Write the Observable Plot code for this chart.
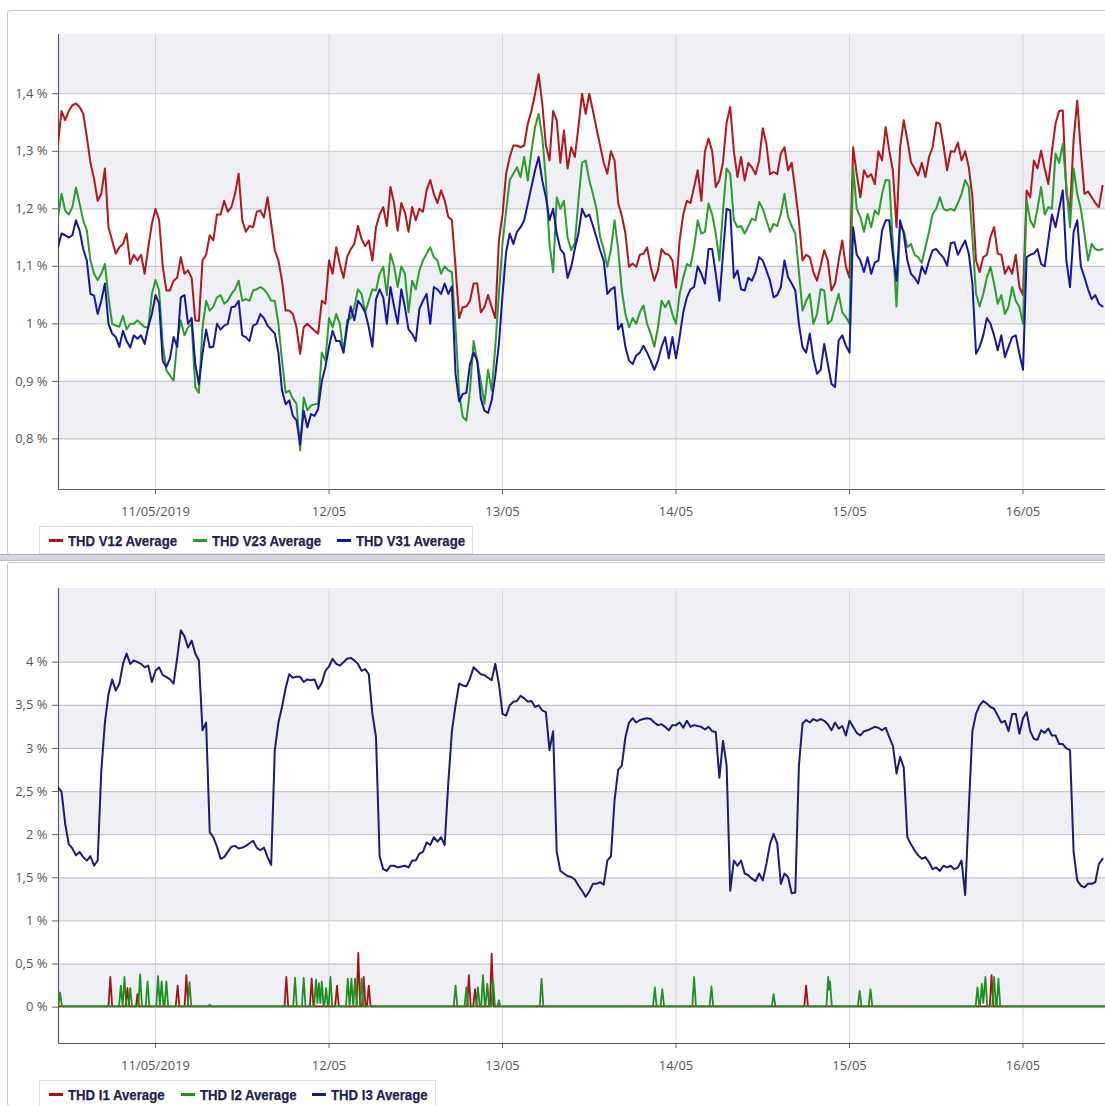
<!DOCTYPE html>
<html>
<head>
<meta charset="utf-8">
<script src="https://cdn.jsdelivr.net/npm/d3@7"></script>
<script src="https://cdn.jsdelivr.net/npm/@observablehq/plot@0.6"></script>
<style>
  html, body { margin: 0; padding: 0; background: #fff; overflow: hidden; width: 1105px; height: 1106px; }
  .panel { position: absolute; left: 7px; width: 1120px; height: 543px; border: 1px solid #c2c8da; border-radius: 3px; background: #fff; }
  .divider { position: absolute; left: 0; width: 1105px; height: 5px; background: #d3d6de; border-top: 1px solid #a9aebd; border-bottom: 1px solid #b9bdc9; }
  .chart { position: absolute; left: 0; }
  .legend {
    position: absolute; left: 39px; height: 26px; display: flex; align-items: center; gap: 16px;
    padding: 0 7px 0 9px; background: #fff; border: 1px solid #e0e2e8;
    font-family: "Liberation Sans", Arial, sans-serif; font-weight: bold; font-size: 15px; color: #1f2150;
    -webkit-text-stroke: 0.25px #1f2150;
  }
  .legend .item { display: flex; align-items: center; gap: 5px; white-space: nowrap; }
  .legend .dash { display: inline-block; width: 14px; height: 3px; }
  .legend .label { display: inline-block; overflow: visible; }
  .legend .label span { display: inline-block; transform-origin: 0 50%; }
</style>
</head>
<body>
<div class="panel" style="top:10px"></div>
<div class="divider" style="top:554px"></div>
<div class="panel" style="top:562px"></div>
<div id="voltage" class="chart" style="top:0px"></div>
<div id="voltage-legend" class="legend" style="top:526px"></div>
<div id="current" class="chart" style="top:554px"></div>
<div id="current-legend" class="legend" style="top:1080px"></div>
<script>
// Half-hourly samples, hours counted from 10/05/2019 00:00 (10:00 on the 10th to 11:00 on the 16th)
const sampleHours = d3.range(10, 155.25, 0.5);

const thdV12 = [
  1.32, 1.313, 1.37, 1.354, 1.37, 1.38, 1.383, 1.377, 1.365, 1.325, 1.28, 1.252, 1.214, 1.226, 1.27, 1.168, 1.145, 1.122, 1.133, 1.139,
  1.157, 1.104, 1.12, 1.11, 1.12, 1.087, 1.133, 1.174, 1.2, 1.18, 1.10, 1.058, 1.058, 1.075, 1.08, 1.116, 1.087, 1.093, 1.08, 1.006,
  1.005, 1.11, 1.12, 1.154, 1.145, 1.19, 1.19, 1.214, 1.195, 1.203, 1.226, 1.261, 1.18, 1.16, 1.17, 1.168, 1.195, 1.197, 1.185, 1.22,
  1.174, 1.128, 1.11, 1.075, 1.023, 1.023, 1.017, 0.994, 0.948, 0.994, 1.0, 0.994, 0.988, 0.983, 1.04, 1.035, 1.11, 1.087, 1.133, 1.104,
  1.08, 1.116, 1.13, 1.139, 1.17, 1.148, 1.135, 1.145, 1.11, 1.168, 1.19, 1.203, 1.17, 1.238, 1.21, 1.162, 1.21, 1.194, 1.16, 1.203,
  1.18, 1.2, 1.195, 1.232, 1.25, 1.226, 1.21, 1.232, 1.215, 1.186, 1.18, 1.099, 1.01, 1.029, 1.03, 1.04, 1.07, 1.07, 1.02, 1.029,
  1.05, 1.029, 1.01, 1.145, 1.19, 1.261, 1.29, 1.31, 1.31, 1.307, 1.31, 1.348, 1.37, 1.4, 1.434, 1.383, 1.31, 1.284, 1.37, 1.354,
  1.28, 1.336, 1.27, 1.307, 1.29, 1.342, 1.4, 1.365, 1.4, 1.371, 1.34, 1.31, 1.28, 1.261, 1.30, 1.284, 1.21, 1.188, 1.157, 1.099,
  1.105, 1.099, 1.12, 1.122, 1.133, 1.099, 1.075, 1.093, 1.13, 1.122, 1.12, 1.11, 1.063, 1.145, 1.19, 1.214, 1.21, 1.238, 1.267, 1.214,
  1.30, 1.322, 1.3, 1.238, 1.25, 1.281, 1.35, 1.377, 1.30, 1.255, 1.29, 1.249, 1.28, 1.272, 1.26, 1.284, 1.34, 1.313, 1.26, 1.264,
  1.26, 1.296, 1.307, 1.267, 1.28, 1.232, 1.18, 1.11, 1.12, 1.116, 1.09, 1.075, 1.1, 1.128, 1.11, 1.058, 1.07, 1.11, 1.145, 1.099,
  1.08, 1.307, 1.26, 1.22, 1.267, 1.255, 1.26, 1.243, 1.30, 1.284, 1.342, 1.301, 1.267, 1.168, 1.307, 1.354, 1.32, 1.281, 1.27, 1.258,
  1.28, 1.255, 1.29, 1.307, 1.35, 1.348, 1.31, 1.267, 1.3, 1.299, 1.315, 1.284, 1.3, 1.272, 1.22, 1.11, 1.09, 1.116, 1.12, 1.151,
  1.168, 1.122, 1.12, 1.087, 1.1, 1.087, 1.12, 1.064, 1.05, 1.232, 1.22, 1.284, 1.27, 1.301, 1.27, 1.243, 1.3, 1.348, 1.37, 1.371,
  1.226, 1.197, 1.32, 1.388, 1.3, 1.226, 1.23, 1.22, 1.21, 1.203, 1.24
];
const thdV23 = [
  1.19, 1.186, 1.226, 1.197, 1.19, 1.203, 1.237, 1.209, 1.18, 1.162, 1.11, 1.087, 1.076, 1.087, 1.104, 1.046, 1.0, 0.997, 0.995, 1.014,
  0.99, 1.0, 1.0, 1.006, 1.0, 0.994, 0.994, 1.052, 1.076, 1.058, 0.965, 0.919, 0.91, 0.901, 0.97, 1.006, 0.98, 0.994, 1.0, 0.89,
  0.88, 0.994, 1.04, 1.023, 1.03, 1.046, 1.05, 1.035, 1.04, 1.052, 1.06, 1.075, 1.04, 1.043, 1.04, 1.058, 1.06, 1.064, 1.06, 1.052,
  1.04, 1.04, 1.0, 0.936, 0.88, 0.884, 0.87, 0.861, 0.78, 0.872, 0.85, 0.858, 0.86, 0.861, 0.95, 0.936, 1.01, 0.994, 1.017, 1.0,
  0.95, 1.006, 1.01, 1.029, 1.06, 1.052, 1.02, 1.04, 1.06, 1.058, 1.087, 1.099, 1.05, 1.122, 1.1, 1.064, 1.1, 1.087, 1.02, 1.075,
  1.06, 1.093, 1.11, 1.122, 1.133, 1.116, 1.11, 1.087, 1.1, 1.093, 1.09, 0.994, 0.88, 0.838, 0.832, 0.884, 0.97, 0.936, 0.9, 0.861,
  0.92, 0.884, 0.96, 1.052, 1.14, 1.197, 1.25, 1.261, 1.272, 1.255, 1.29, 1.249, 1.3, 1.342, 1.365, 1.325, 1.25, 1.139, 1.09, 1.22,
  1.2, 1.214, 1.15, 1.128, 1.14, 1.214, 1.28, 1.284, 1.25, 1.226, 1.2, 1.151, 1.13, 1.099, 1.13, 1.18, 1.13, 1.058, 1.017, 0.994,
  1.01, 1.0, 1.02, 1.032, 1.0, 0.983, 0.96, 0.994, 1.04, 1.029, 1.04, 1.017, 1.0, 1.052, 1.08, 1.104, 1.10, 1.133, 1.18, 1.157,
  1.16, 1.209, 1.19, 1.157, 1.11, 1.197, 1.27, 1.261, 1.18, 1.168, 1.17, 1.157, 1.17, 1.183, 1.18, 1.212, 1.2, 1.18, 1.16, 1.174,
  1.17, 1.191, 1.226, 1.186, 1.17, 1.157, 1.09, 1.023, 1.04, 1.052, 1.0, 1.017, 1.06, 1.058, 1.0, 1.006, 1.03, 1.052, 1.02, 1.012,
  1.0, 1.272, 1.2, 1.186, 1.16, 1.191, 1.168, 1.197, 1.19, 1.226, 1.25, 1.249, 1.14, 1.03, 1.17, 1.162, 1.133, 1.139, 1.12, 1.116,
  1.106, 1.133, 1.16, 1.191, 1.2, 1.22, 1.2, 1.197, 1.2, 1.197, 1.21, 1.226, 1.25, 1.238, 1.15, 1.052, 1.03, 1.052, 1.08, 1.099,
  1.07, 1.035, 1.05, 1.017, 1.03, 1.064, 1.04, 1.029, 1.0, 1.214, 1.18, 1.168, 1.2, 1.238, 1.19, 1.203, 1.2, 1.296, 1.28, 1.313,
  1.24, 1.168, 1.27, 1.226, 1.2, 1.157, 1.11, 1.139, 1.13, 1.128, 1.13
];
const thdV31 = [
  1.12, 1.133, 1.157, 1.154, 1.15, 1.154, 1.18, 1.162, 1.13, 1.11, 1.052, 1.049, 1.017, 1.04, 1.07, 1.0, 0.983, 0.977, 0.96, 0.988,
  0.97, 0.959, 0.98, 0.974, 0.98, 0.965, 0.995, 1.017, 1.05, 1.035, 0.935, 0.925, 0.94, 0.977, 0.96, 1.046, 1.05, 1.0, 1.01, 0.93,
  0.895, 0.948, 0.99, 0.959, 0.96, 1.0, 0.99, 0.997, 1.0, 1.029, 1.03, 1.04, 0.98, 0.977, 0.97, 0.997, 1.0, 1.017, 1.01, 0.997,
  0.99, 0.983, 0.95, 0.884, 0.86, 0.867, 0.84, 0.832, 0.79, 0.849, 0.82, 0.843, 0.84, 0.852, 0.9, 0.925, 0.96, 0.988, 0.97, 0.97,
  0.95, 0.994, 1.03, 1.006, 1.04, 1.032, 1.02, 0.994, 0.96, 1.043, 1.06, 1.046, 1.0, 1.064, 1.03, 1.0, 1.06, 1.029, 0.99, 0.983,
  0.97, 1.026, 1.04, 1.052, 1.0, 1.064, 1.06, 1.052, 1.07, 1.052, 1.065, 0.913, 0.865, 0.878, 0.88, 0.93, 0.95, 0.936, 0.87, 0.849,
  0.845, 0.867, 0.91, 0.965, 1.05, 1.125, 1.157, 1.139, 1.16, 1.168, 1.18, 1.209, 1.238, 1.267, 1.29, 1.249, 1.22, 1.18, 1.2, 1.157,
  1.13, 1.122, 1.08, 1.099, 1.13, 1.157, 1.2, 1.186, 1.19, 1.171, 1.15, 1.128, 1.11, 1.052, 1.06, 1.064, 0.99, 1.0, 0.96, 0.936,
  0.93, 0.945, 0.95, 0.962, 0.95, 0.936, 0.92, 0.936, 0.96, 0.977, 0.94, 0.977, 0.94, 0.977, 1.02, 1.046, 1.06, 1.064, 1.10, 1.087,
  1.07, 1.13, 1.13, 1.087, 1.04, 1.122, 1.2, 1.197, 1.08, 1.093, 1.06, 1.058, 1.08, 1.075, 1.09, 1.116, 1.11, 1.093, 1.075, 1.046,
  1.05, 1.064, 1.11, 1.081, 1.07, 1.058, 1.0, 0.959, 0.95, 0.983, 0.94, 0.913, 0.92, 0.965, 0.93, 0.896, 0.89, 0.971, 0.98, 0.962,
  0.95, 1.168, 1.12, 1.11, 1.09, 1.116, 1.087, 1.107, 1.11, 1.162, 1.18, 1.18, 1.12, 1.075, 1.18, 1.157, 1.11, 1.087, 1.08, 1.07,
  1.1, 1.087, 1.11, 1.128, 1.13, 1.122, 1.115, 1.101, 1.14, 1.142, 1.12, 1.133, 1.145, 1.122, 1.07, 0.948, 0.96, 0.98, 1.01, 1.0,
  0.98, 0.954, 0.98, 0.942, 0.96, 0.977, 0.98, 0.948, 0.92, 1.116, 1.12, 1.122, 1.13, 1.104, 1.1, 1.145, 1.19, 1.168, 1.2, 1.232,
  1.11, 1.064, 1.16, 1.18, 1.1, 1.081, 1.06, 1.043, 1.05, 1.035, 1.03
];
const thdI3 = [
  2.55, 2.55, 2.5, 2.13, 1.89, 1.84, 1.76, 1.8, 1.74, 1.7, 1.75, 1.64, 1.7, 2.74, 3.3, 3.63, 3.8, 3.67, 3.75, 3.98,
  4.1, 3.98, 4.02, 4.0, 3.98, 3.94, 3.96, 3.77, 3.9, 3.94, 3.85, 3.83, 3.8, 3.75, 4.05, 4.37, 4.3, 4.17, 4.25, 4.1,
  4.02, 3.21, 3.3, 2.03, 1.97, 1.86, 1.72, 1.74, 1.8, 1.86, 1.87, 1.84, 1.85, 1.87, 1.9, 1.93, 1.85, 1.82, 1.85, 1.74,
  1.65, 2.98, 3.3, 3.48, 3.7, 3.86, 3.82, 3.83, 3.83, 3.77, 3.8, 3.79, 3.8, 3.69, 3.76, 3.9, 3.95, 4.04, 3.98, 3.96,
  4.0, 4.04, 4.05, 4.02, 3.98, 3.9, 3.92, 3.86, 3.4, 3.13, 1.75, 1.6, 1.58, 1.64, 1.64, 1.62, 1.63, 1.64, 1.62, 1.7,
  1.7, 1.78, 1.8, 1.91, 1.88, 1.97, 1.92, 1.97, 1.88, 2.6, 3.2, 3.5, 3.75, 3.73, 3.72, 3.81, 3.94, 3.9, 3.86, 3.85,
  3.82, 3.79, 3.98, 3.75, 3.4, 3.38, 3.5, 3.54, 3.55, 3.61, 3.58, 3.54, 3.55, 3.48, 3.5, 3.44, 3.42, 2.98, 3.2, 1.8,
  1.58, 1.55, 1.52, 1.51, 1.48, 1.41, 1.35, 1.28, 1.34, 1.43, 1.43, 1.45, 1.42, 1.7, 1.75, 2.4, 2.75, 2.8, 3.13, 3.3,
  3.35, 3.3, 3.33, 3.34, 3.35, 3.34, 3.3, 3.27, 3.28, 3.25, 3.21, 3.27, 3.27, 3.3, 3.24, 3.32, 3.25, 3.27, 3.26, 3.25,
  3.22, 3.25, 3.2, 3.19, 2.66, 3.09, 2.8, 1.35, 1.7, 1.64, 1.7, 1.55, 1.53, 1.49, 1.46, 1.55, 1.47, 1.66, 1.89, 2.01,
  1.9, 1.43, 1.55, 1.51, 1.32, 1.33, 2.8, 3.29, 3.33, 3.3, 3.34, 3.32, 3.34, 3.32, 3.28, 3.21, 3.3, 3.23, 3.26, 3.15,
  3.32, 3.25, 3.18, 3.15, 3.2, 3.21, 3.23, 3.25, 3.24, 3.21, 3.24, 3.13, 3.03, 2.71, 2.9, 2.78, 1.97, 1.89, 1.82, 1.76,
  1.72, 1.74, 1.68, 1.6, 1.62, 1.58, 1.64, 1.62, 1.64, 1.6, 1.62, 1.7, 1.3, 2.3, 3.2, 3.4, 3.5, 3.55, 3.52, 3.48,
  3.46, 3.38, 3.3, 3.32, 3.2, 3.4, 3.4, 3.17, 3.35, 3.42, 3.2, 3.11, 3.1, 3.21, 3.18, 3.23, 3.15, 3.15, 3.05, 3.05,
  3.0, 2.98, 1.8, 1.47, 1.41, 1.39, 1.43, 1.43, 1.45, 1.66, 1.72
];

// Current harmonics of phases 1 and 2: [hour, %] readings, mostly flat with short bursts
const thdI1 = [
  [10.0, 0.01],
  [17.5, 0.01], [17.75, 0.35], [18.0, 0.01],
  [19.85, 0.01], [20.1, 0.22], [20.35, 0.01],
  [21.3, 0.01], [21.5, 0.15], [21.7, 0.01],
  [26.8, 0.01], [27.06, 0.25], [27.3, 0.01],
  [28.02, 0.01], [28.27, 0.37], [28.52, 0.01],
  [41.85, 0.01], [42.1, 0.35], [42.35, 0.01],
  [45.35, 0.01], [45.6, 0.33], [45.85, 0.01],
  [48.85, 0.01], [49.1, 0.25], [49.35, 0.01],
  [51.8, 0.01], [52.05, 0.63], [52.3, 0.01],
  [52.55, 0.01], [52.8, 0.35], [53.05, 0.01],
  [53.25, 0.01], [53.5, 0.25], [53.75, 0.01],
  [67.1, 0.01], [67.35, 0.37], [67.6, 0.01],
  [67.95, 0.01], [68.2, 0.21], [68.45, 0.01],
  [70.25, 0.01], [70.5, 0.62], [70.75, 0.01],
  [113.75, 0.01], [114.0, 0.25], [114.25, 0.01],
  [139.4, 0.01], [139.65, 0.37], [139.9, 0.01],
  [156, 0.01]
];
const thdI2 = [
  [10.0, 0.01], [10.55, 0.01], [10.8, 0.17], [11.05, 0.01],
  [18.95, 0.01], [19.2, 0.25], [19.45, 0.01], [19.7, 0.35], [19.95, 0.01],
  [20.25, 0.01], [20.5, 0.22], [20.75, 0.01],
  [21.62, 0.01], [21.87, 0.38], [22.12, 0.01],
  [22.65, 0.01], [22.9, 0.3], [23.15, 0.01],
  [24.1, 0.01], [24.35, 0.36], [24.6, 0.01], [24.85, 0.3], [25.1, 0.01],
  [25.25, 0.01], [25.5, 0.3], [25.75, 0.01],
  [28.45, 0.01], [28.7, 0.29], [28.95, 0.01],
  [31.3, 0.01], [31.5, 0.03], [31.7, 0.01],
  [43.05, 0.01], [43.3, 0.34], [43.55, 0.01],
  [44.25, 0.01], [44.5, 0.34], [44.75, 0.01],
  [45.95, 0.01], [46.2, 0.32], [46.4, 0.05], [46.6, 0.28], [46.8, 0.05], [47.0, 0.3], [47.25, 0.01],
  [47.35, 0.01], [47.6, 0.22], [47.85, 0.01],
  [47.95, 0.01], [48.2, 0.35], [48.45, 0.01],
  [50.35, 0.01], [50.6, 0.33], [50.85, 0.01], [51.1, 0.33], [51.35, 0.01], [51.6, 0.33], [51.85, 0.01],
  [52.25, 0.01], [52.5, 0.33], [52.75, 0.01],
  [65.25, 0.01], [65.5, 0.25], [65.75, 0.01],
  [66.75, 0.01], [67.0, 0.23], [67.25, 0.01],
  [68.35, 0.01], [68.6, 0.23], [68.85, 0.01],
  [69.05, 0.01], [69.3, 0.37], [69.55, 0.01],
  [69.65, 0.01], [69.9, 0.27], [70.15, 0.01],
  [70.45, 0.01], [70.7, 0.31], [70.95, 0.01],
  [71.3, 0.01], [71.5, 0.08], [71.7, 0.01],
  [77.15, 0.01], [77.4, 0.33], [77.65, 0.01],
  [92.82, 0.01], [93.07, 0.23], [93.32, 0.01],
  [93.85, 0.01], [94.1, 0.21], [94.35, 0.01],
  [98.25, 0.01], [98.5, 0.35], [98.75, 0.01],
  [100.65, 0.01], [100.9, 0.24], [101.15, 0.01],
  [109.25, 0.01], [109.5, 0.15], [109.75, 0.01],
  [116.8, 0.01], [117.05, 0.35], [117.2, 0.2], [117.3, 0.3], [117.55, 0.01],
  [121.15, 0.01], [121.4, 0.19], [121.65, 0.01],
  [122.65, 0.01], [122.9, 0.21], [123.15, 0.01],
  [137.45, 0.01], [137.7, 0.23], [137.95, 0.01],
  [138.05, 0.01], [138.3, 0.27], [138.5, 0.05], [138.8, 0.35], [139.05, 0.01],
  [139.75, 0.01], [140.0, 0.35], [140.25, 0.01], [140.35, 0.01], [140.6, 0.33], [140.85, 0.01],
  [156, 0.01]
];

// Axis ticks
const dayHours = [24, 48, 72, 96, 120, 144];
const dayLabels = ["11/05/2019", "12/05", "13/05", "14/05", "15/05", "16/05"];
const voltageTicks = [0.8, 0.9, 1.0, 1.1, 1.2, 1.3, 1.4];
const currentTicks = [0, 0.5, 1, 1.5, 2, 2.5, 3, 3.5, 4];

const voltageSeries = ["THD V12 Average", "THD V23 Average", "THD V31 Average"];
const currentSeries = ["THD I1 Average", "THD I2 Average", "THD I3 Average"];
const voltageColors = ["#b3161c", "#2a9d2a", "#1616a3"];
const currentColors = ["#a81212", "#1f911f", "#1b1b78"];

// Time helpers
const origin = new Date(2019, 4, 10);
const at = h => new Date(origin.getTime() + h * 3600000);
const xDomain = [at(10.58), at(155.41)];
const dayTicks = dayHours.map(at);
const dayLabel = d => dayLabels[dayHours.indexOf(Math.round((d - origin) / 3600000))];
const pct = d => String(Math.round(d * 10) / 10).replace(".", ",") + " %";

// Alternating shaded bands: every other tick interval, starting at the lowest tick
function bands(ticks, top) {
  const out = [];
  for (let i = 0; i < ticks.length; i += 2) out.push([ticks[i], i + 1 < ticks.length ? ticks[i + 1] : top]);
  return out;
}

function chart({ yDomain, yTicks, lines }) {
  return Plot.plot({
    width: 1105,
    height: 520,
    marginLeft: 58,
    marginRight: 0,
    marginTop: 34,
    marginBottom: 31,
    style: { fontFamily: '"Open Sans", "Noto Sans", sans-serif', fontSize: "13px", color: "#555", background: "transparent", overflow: "visible" },
    x: { type: "time", domain: xDomain },
    y: { domain: yDomain },
    marks: [
      Plot.rect(bands(yTicks, yDomain[1]), { x1: () => xDomain[0], x2: () => xDomain[1], y1: d => d[0], y2: d => d[1], fill: "#eef0f5" }),
      Plot.gridX(dayTicks, { stroke: "#d6d8de", strokeOpacity: 1 }),
      Plot.gridY(yTicks, { stroke: "#c5c7cd", strokeOpacity: 1, strokeWidth: 1.2 }),
      Plot.axisY(yTicks, { tickFormat: pct, tickSize: 6, tickPadding: 5, label: null, stroke: "#666" }),
      Plot.axisX(dayTicks, { tickFormat: dayLabel, tickSize: 5, tickPadding: 12, label: null, stroke: "#666" }),
      Plot.ruleX([xDomain[0]], { stroke: "#5b5e6b", strokeWidth: 1.2 }),
      Plot.ruleY([yDomain[0]], { stroke: "#5b5e6b", strokeWidth: 1.2 }),
      ...lines.map(l => Plot.line(l.data, { x: "t", y: "v", stroke: l.color, strokeWidth: l.width || 2, clip: true }))
    ]
  });
}

const sampled = values => sampleHours.map((h, i) => ({ t: at(h), v: values[i] }));
const pairs = arr => arr.map(([h, v]) => ({ t: at(h), v }));

document.getElementById("voltage").append(chart({
  yDomain: [0.712, 1.503],
  yTicks: voltageTicks,
  lines: [
    { data: sampled(thdV12), color: voltageColors[0] },
    { data: sampled(thdV23), color: voltageColors[1] },
    { data: sampled(thdV31), color: voltageColors[2] }
  ]
}));

document.getElementById("current").append(chart({
  yDomain: [-0.421, 4.854],
  yTicks: currentTicks,
  lines: [
    { data: pairs(thdI1), color: currentColors[0], width: 1.8 },
    { data: pairs(thdI2), color: currentColors[1], width: 1.8 },
    { data: sampled(thdI3), color: currentColors[2] }
  ]
}));

// Legend rows: a coloured dash and a narrowed bold label per series
const legendSqueeze = 0.88;
function legend(id, names, colors) {
  const el = document.getElementById(id);
  names.forEach((n, i) => {
    const item = document.createElement("span");
    item.className = "item";
    const dash = document.createElement("span");
    dash.className = "dash";
    dash.style.background = colors[i];
    const label = document.createElement("span");
    label.className = "label";
    const text = document.createElement("span");
    text.textContent = n;
    label.append(text);
    item.append(dash, label);
    el.append(item);
    const w = text.getBoundingClientRect().width;
    text.style.transform = `scaleX(${legendSqueeze})`;
    label.style.width = (w * legendSqueeze).toFixed(1) + "px";
  });
}
legend("voltage-legend", voltageSeries, voltageColors);
legend("current-legend", currentSeries, currentColors);
</script>
</body>
</html>
